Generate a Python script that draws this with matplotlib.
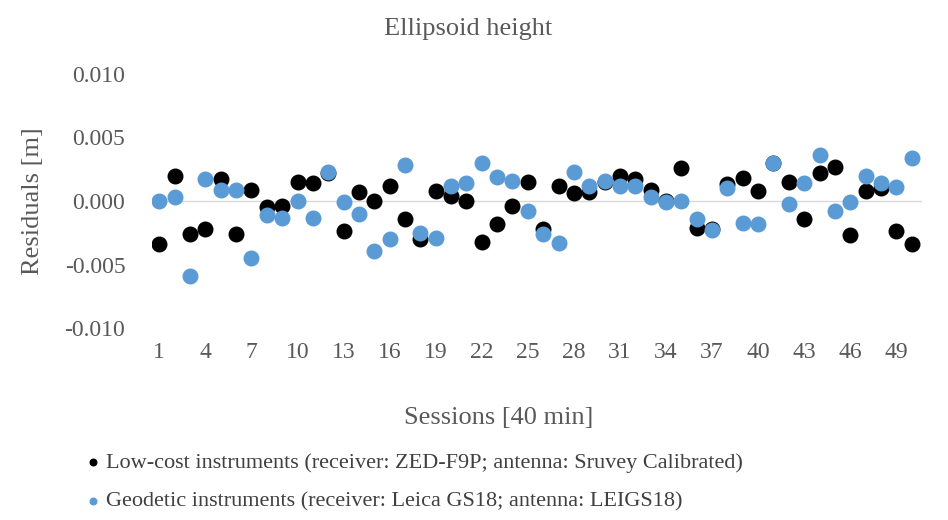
import numpy as np
import matplotlib.pyplot as plt

plt.rcParams['font.family'] = ['Liberation Serif', 'DejaVu Serif']

sessions = list(range(1, 51))

# residuals [m]
low_cost = [-0.0034, 0.0020, -0.0026, -0.0022, 0.0017, -0.0026, 0.0009, -0.0005, -0.0004, 0.0015,
            0.0014, 0.0022, -0.0024, 0.0007, 0.0000, 0.0012, -0.0014, -0.0030, 0.0008, 0.0004,
            0.0000, -0.0032, -0.0018, -0.0004, 0.0015, -0.0022, 0.0012, 0.0006, 0.0007, 0.0015,
            0.0020, 0.0017, 0.0009, 0.0000, 0.0026, -0.0021, -0.0022, 0.0013, 0.0018, 0.0008,
            0.0030, 0.0015, -0.0014, 0.0022, 0.0027, -0.0027, 0.0008, 0.0010, -0.0024, -0.0034]

geodetic = [0.0000, 0.0003, -0.0059, 0.0017, 0.0009, 0.0009, -0.0045, -0.0011, -0.0013, 0.0000,
            -0.0013, 0.0023, -0.0001, -0.0010, -0.0039, -0.0030, 0.0028, -0.0025, -0.0029, 0.0012,
            0.0014, 0.0030, 0.0019, 0.0016, -0.0008, -0.0026, -0.0033, 0.0023, 0.0012, 0.0016,
            0.0012, 0.0012, 0.0003, -0.0001, 0.0000, -0.0014, -0.0023, 0.0010, -0.0017, -0.0018,
            0.0030, -0.0002, 0.0014, 0.0036, -0.0008, -0.0001, 0.0020, 0.0014, 0.0011, 0.0034]

xticks = list(range(1, 51, 3))
yticks = [-0.010, -0.005, 0.000, 0.005, 0.010]

txt = '#595959'

fig = plt.figure(figsize=(9.48, 5.2), dpi=100)
ax = fig.add_axes([0.160, 0.369, 0.813, 0.489])

ax.axhline(0, color='#D9D9D9', lw=1, zorder=1)
ax.scatter(sessions, low_cost, s=110, color='black', zorder=2,
           label='Low-cost instruments (receiver: ZED-F9P; antenna: Sruvey Calibrated)')
ax.scatter(sessions, geodetic, s=110, color='#5B9BD5', zorder=3,
           label='Geodetic instruments (receiver: Leica GS18; antenna: LEIGS18)')

ax.set_xlim(0.5, 50.7)
ax.set_ylim(-0.010, 0.010)
ax.set_xticks(xticks)
ax.set_yticks(yticks)
ax.set_yticklabels(['{:.3f}'.format(v) for v in yticks])
for s in ax.spines.values():
    s.set_visible(False)
ax.tick_params(length=0, colors=txt, labelsize=17)
ax.tick_params(axis='y', pad=19)
ax.tick_params(axis='x', pad=10)

fig.text(0.494, 1 - 35 / 520, 'Ellipsoid height', color=txt, fontsize=19,
         ha='center', va='baseline')
fig.text(0.526, 1 - 418 / 520, 'Sessions [40 min]', color=txt, fontsize=19,
         ha='center', va='center')
fig.text(33 / 948, 0.614, 'Residuals [m]', color=txt, fontsize=19,
         ha='center', va='center', rotation=90)

fig.legend(loc='center left', bbox_to_anchor=(0.068, 0.073), frameon=False,
           markerscale=0.45, handletextpad=0.15, labelspacing=0.8,
           fontsize=16, labelcolor='#404040', handlelength=0.8)

fig.savefig('out.png')
